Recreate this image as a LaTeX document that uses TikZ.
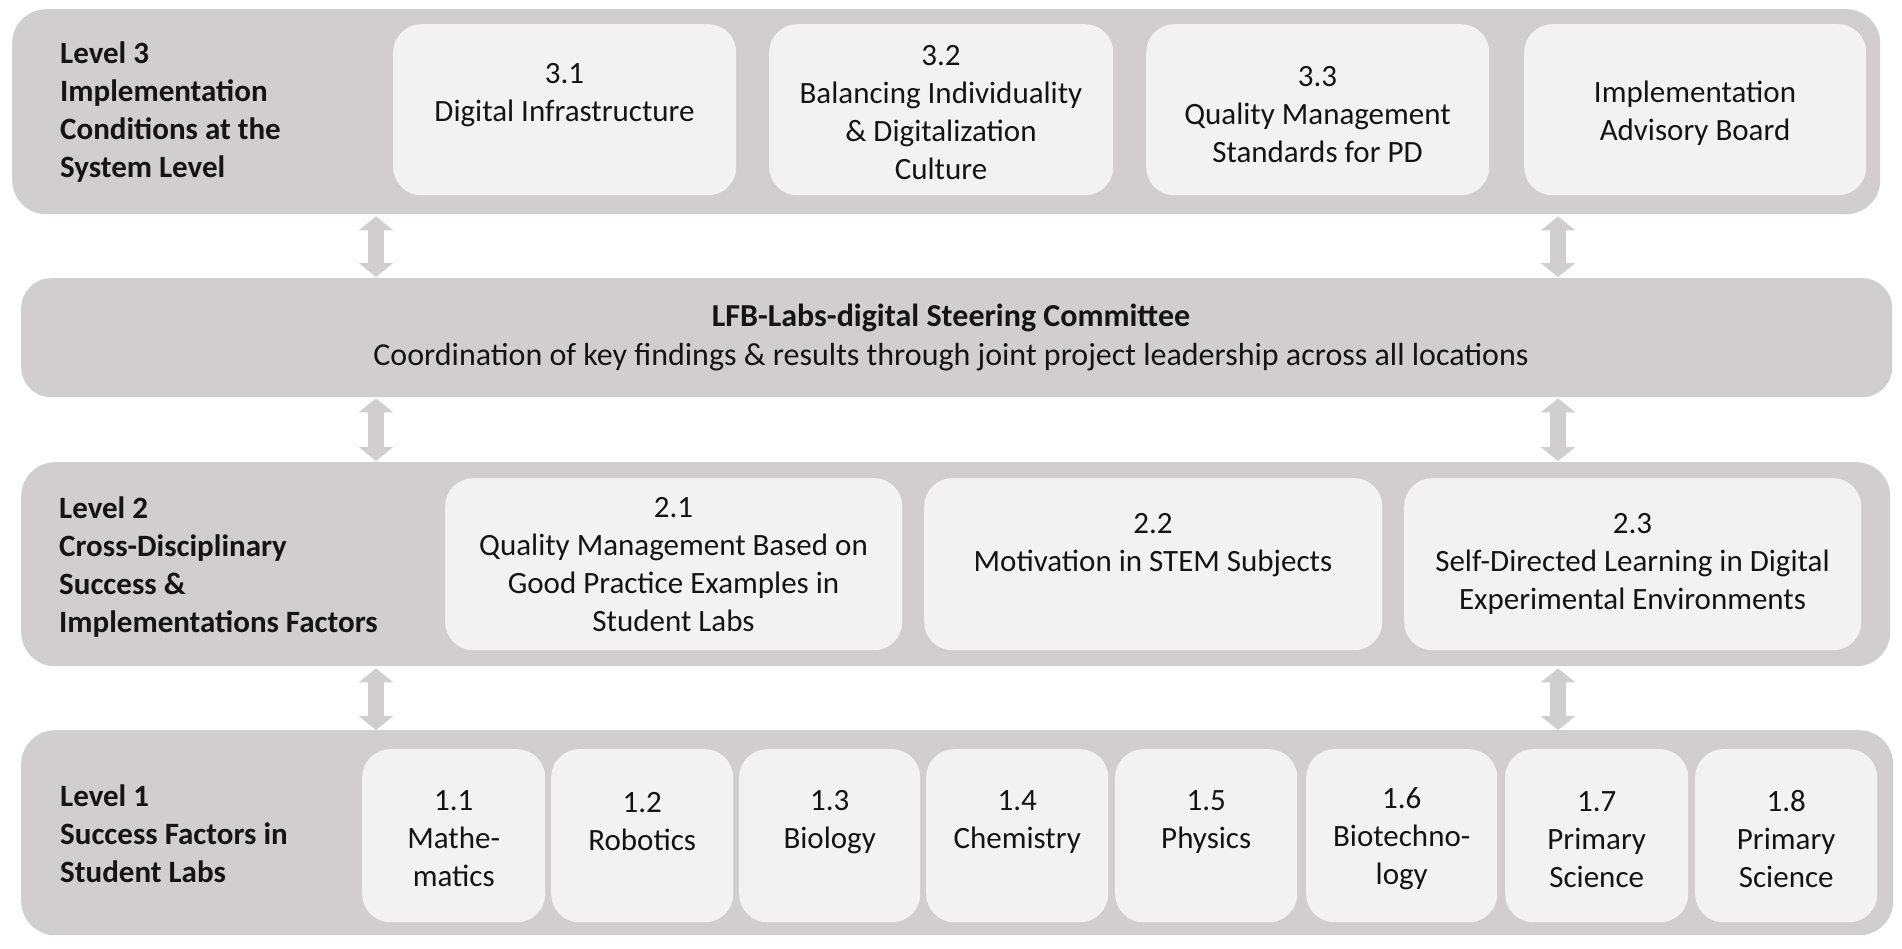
\documentclass[tikz,border=0pt]{standalone}
\usepackage{fontspec}
\setmainfont{Carlito}
\usetikzlibrary{arrows.meta}
\definecolor{outergray}{HTML}{D0CECE}
\definecolor{innergray}{HTML}{F2F2F2}
\definecolor{arrowgray}{HTML}{D0CECE}
\definecolor{txt}{HTML}{141414}
\begin{document}
\begin{tikzpicture}[x=1pt,y=-1pt,
  outerbox/.style={fill=outergray, draw=none, rounded corners=34pt, inner sep=0pt, anchor=north west},
  innerbox/.style={fill=innergray, draw=none, rounded corners=28pt, inner sep=0pt, anchor=north west},
  lbl/.style={font=\fontsize{31}{38}\selectfont, align=center, inner sep=0pt, text=txt},
  lvl/.style={font=\fontsize{31}{38}\selectfont\bfseries, align=left, inner sep=0pt, anchor=west, text=txt},
  dbl/.style={draw=arrowgray, line width=16pt, {Triangle[width=34pt,length=14pt]}-{Triangle[width=34pt,length=14pt]}}
]
\useasboundingbox (0,0) rectangle (1902,948);

% outer bands
\node[outerbox, minimum width=1868pt, minimum height=205pt] (L3) at (12,9) {};
\node[outerbox, minimum width=1871pt, minimum height=119pt, rounded corners=30pt] (ST) at (21,278) {};
\node[outerbox, minimum width=1869pt, minimum height=204pt] (L2) at (21,462) {};
\node[outerbox, minimum width=1872pt, minimum height=205pt] (L1) at (21,730) {};

% level 3 boxes
\node[innerbox, minimum width=343pt, minimum height=171pt] (b31) at (393,24) {};
\node[innerbox, minimum width=344pt, minimum height=171pt] (b32) at (769,24) {};
\node[innerbox, minimum width=343pt, minimum height=171pt] (b33) at (1146,24) {};
\node[innerbox, minimum width=342pt, minimum height=171pt] (b34) at (1524,24) {};

% level 2 boxes
\node[innerbox, minimum width=457pt, minimum height=172pt] (b21) at (445,478) {};
\node[innerbox, minimum width=458pt, minimum height=172pt] (b22) at (924,478) {};
\node[innerbox, minimum width=457pt, minimum height=172pt] (b23) at (1404,478) {};

% level 1 boxes
\node[innerbox, minimum width=183pt, minimum height=173pt] (b11) at (362,749) {};
\node[innerbox, minimum width=182pt, minimum height=173pt] (b12) at (551,749) {};
\node[innerbox, minimum width=181pt, minimum height=173pt] (b13) at (739,749) {};
\node[innerbox, minimum width=182pt, minimum height=173pt] (b14) at (926,749) {};
\node[innerbox, minimum width=182pt, minimum height=173pt] (b15) at (1115,749) {};
\node[innerbox, minimum width=191pt, minimum height=173pt] (b16) at (1306,749) {};
\node[innerbox, minimum width=183pt, minimum height=173pt] (b17) at (1505,749) {};
\node[innerbox, minimum width=182pt, minimum height=173pt] (b18) at (1695,749) {};

% level labels
\node[lvl] (t3) at (60,112.5) {Level 3\\Implementation\\Conditions at the\\System Level};
\node[lvl] (t2) at (59,567.5) {Level 2\\Cross-Disciplinary\\Success \&\\Implementations Factors};
\node[lvl] (t1) at (60,834) {Level 1\\Success Factors in\\Student Labs};

% level 3 texts
\node[lbl] (x31) at (564.5,95) {3.1\\Digital Infrastructure};
\node[lbl] (x32) at (941,112.75) {3.2\\Balancing Individuality\\\& Digitalization\\Culture};
\node[lbl] (x33) at (1317.5,115) {3.3\\Quality Management\\Standards for PD};
\node[lbl] (x34) at (1695,113) {Implementation\\Advisory Board};

% steering committee
\node[lbl, font=\fontsize{32}{39}\selectfont] (xst) at (951,337.5) {{\bfseries LFB-Labs-digital Steering Committee}\\Coordination of key findings \& results through joint project leadership across all locations};

% level 2 texts
\node[lbl] (x21) at (673.5,565) {2.1\\Quality Management Based on\\Good Practice Examples in\\Student Labs};
\node[lbl] (x22) at (1153,545) {2.2\\Motivation in STEM Subjects};
\node[lbl] (x23) at (1632.5,564) {2.3\\Self-Directed Learning in Digital\\Experimental Environments};

% level 1 texts
\node[lbl] (x11) at (b11.center |- 0,839) {1.1\\Mathe-\\matics};
\node[lbl] (x12) at (b12.center |- 0,822) {1.2\\Robotics};
\node[lbl] (x13) at (b13.center |- 0,822) {1.3\\Biology};
\node[lbl] (x14) at (b14.center |- 0,822) {1.4\\Chemistry};
\node[lbl] (x15) at (b15.center |- 0,822) {1.5\\Physics};
\node[lbl] (x16) at (b16.center |- 0,839) {1.6\\Biotechno-\\logy};
\node[lbl] (x17) at (b17.center |- 0,840) {1.7\\Primary\\Science};
\node[lbl] (x18) at (b18.center |- 0,839) {1.8\\Primary\\Science};

% arrows
\coordinate (axl) at (376,0);
\coordinate (axr) at (1558,0);
\draw[dbl] ([yshift=-2pt]L3.south -| axl) -- ([yshift=1pt]ST.north -| axl);
\draw[dbl] ([yshift=-2pt]L3.south -| axr) -- ([yshift=1pt]ST.north -| axr);
\draw[dbl] ([yshift=-1pt]ST.south -| axl) -- ([yshift=1pt]L2.north -| axl);
\draw[dbl] ([yshift=-1pt]ST.south -| axr) -- ([yshift=1pt]L2.north -| axr);
\draw[dbl] ([yshift=-2pt]L2.south -| axl) -- ([yshift=0pt]L1.north -| axl);
\draw[dbl] ([yshift=-2pt]L2.south -| axr) -- ([yshift=0pt]L1.north -| axr);
\end{tikzpicture}
\end{document}
